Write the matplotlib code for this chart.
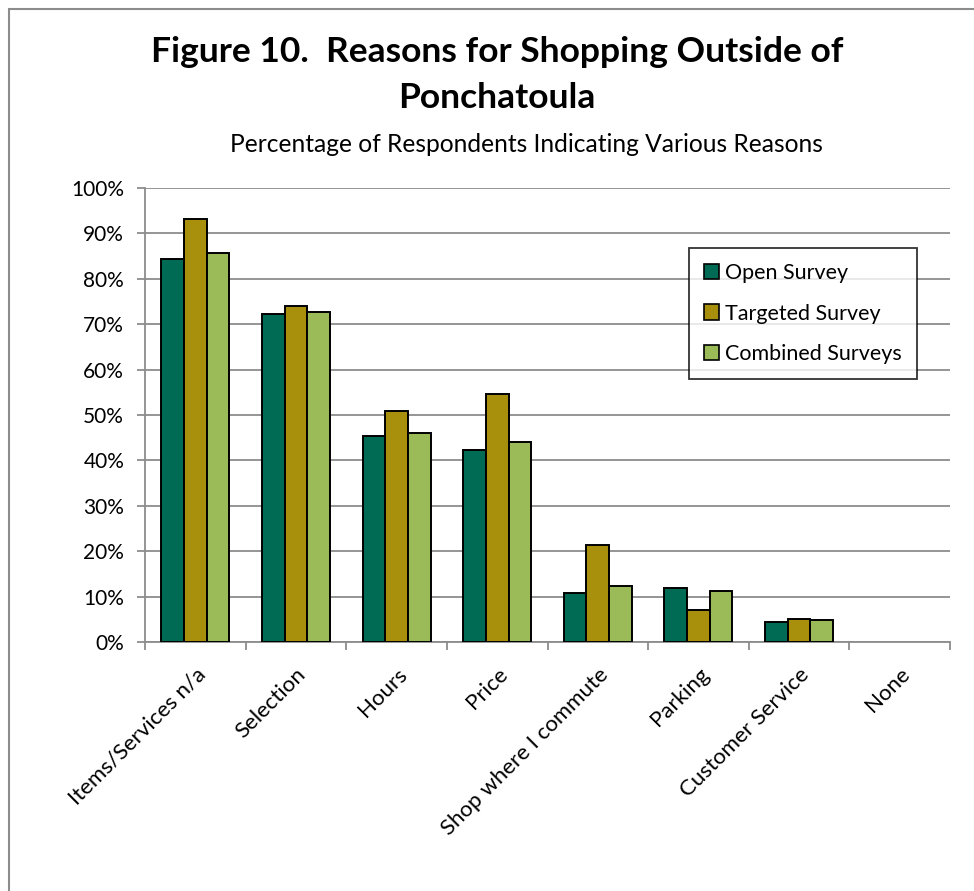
import matplotlib.pyplot as plt
import numpy as np
from matplotlib.patches import Rectangle

plt.rcParams['font.family'] = ['Lato', 'DejaVu Sans']

reasons = ['Items/Services n/a', 'Selection', 'Hours', 'Price',
           'Shop where I commute', 'Parking', 'Customer Service', 'None']
open_survey = [84.3, 72.3, 45.3, 42.2, 10.7, 11.9, 4.3, 0.0]
targeted_survey = [93.2, 73.9, 50.9, 54.6, 21.3, 7.1, 5.1, 0.0]
combined_surveys = [85.6, 72.7, 46.0, 44.1, 12.4, 11.2, 4.8, 0.0]
series = ['Open Survey', 'Targeted Survey', 'Combined Surveys']
colors = ['#006b54', '#a8900c', '#9bbb59']
yticks = np.arange(0, 101, 10)

fig = plt.figure(figsize=(9.74, 8.91), dpi=100)
ax = fig.add_axes([145 / 974, 1 - 642 / 891, 805 / 974, 454 / 891])

x = np.arange(len(reasons))
w = 0.225
for i, (vals, name, c) in enumerate(zip([open_survey, targeted_survey, combined_surveys],
                                        series, colors)):
    # empty categories get no outline so nothing shows at zero
    lw = [1.4 if v > 0 else 0 for v in vals]
    ax.bar(x + (i - 1) * w, vals, width=w, color=c, edgecolor='black',
           linewidth=lw, label=name, zorder=3)

ax.set_xlim(-0.5, len(reasons) - 0.5)
ax.set_ylim(0, 100)
ax.set_yticks(yticks)
ax.set_yticklabels([f'{v}%' for v in yticks], fontsize=15)
ax.yaxis.grid(True, color='#8c8c8c', linewidth=1.3, zorder=0)

# category boundaries carry the tick marks, centres carry the labels
ax.set_xticks(np.arange(len(reasons) + 1) - 0.5)
ax.set_xticklabels([])
ax.set_xticks(x, minor=True)
ax.set_xticklabels(reasons, minor=True, rotation=45, ha='right',
                   rotation_mode='anchor', fontsize=16)
ax.tick_params(axis='x', which='major', length=6, color='#8c8c8c', width=1.3)
ax.tick_params(axis='x', which='minor', length=0, pad=16)
ax.tick_params(axis='y', length=6, color='#8c8c8c', width=1.3, pad=9)

for side in ['top', 'right']:
    ax.spines[side].set_visible(False)
for side in ['left', 'bottom']:
    ax.spines[side].set_color('#8c8c8c')
    ax.spines[side].set_linewidth(1.3)

leg = ax.legend(loc='upper right', bbox_to_anchor=(917 / 974, 1 - 248 / 891),
                bbox_transform=fig.transFigure, fontsize=15.5, frameon=True,
                fancybox=False, edgecolor='black', handlelength=0.7,
                handleheight=0.7, handletextpad=0.3, labelspacing=0.95,
                borderpad=0.7, borderaxespad=0)
leg.get_frame().set_linewidth(1.3)
for h in leg.legend_handles:
    h.set_linewidth(1.2)

fig.text(497 / 974, 1 - 52 / 891, 'Figure 10.  Reasons for Shopping Outside of',
         ha='center', va='center', fontsize=25.5, fontweight='bold')
fig.text(497 / 974, 1 - 98 / 891, 'Ponchatoula',
         ha='center', va='center', fontsize=25.5, fontweight='bold')
fig.text(526 / 974, 1 - 145 / 891, 'Percentage of Respondents Indicating Various Reasons',
         ha='center', va='center', fontsize=17.7)

fig.patches.append(Rectangle((9 / 974, -0.05), 1.1, 1 - 9 / 891 + 0.05,
                             transform=fig.transFigure, fill=False,
                             edgecolor='#8c8c8c', linewidth=1.5))

fig.savefig('out.png', dpi=100)
